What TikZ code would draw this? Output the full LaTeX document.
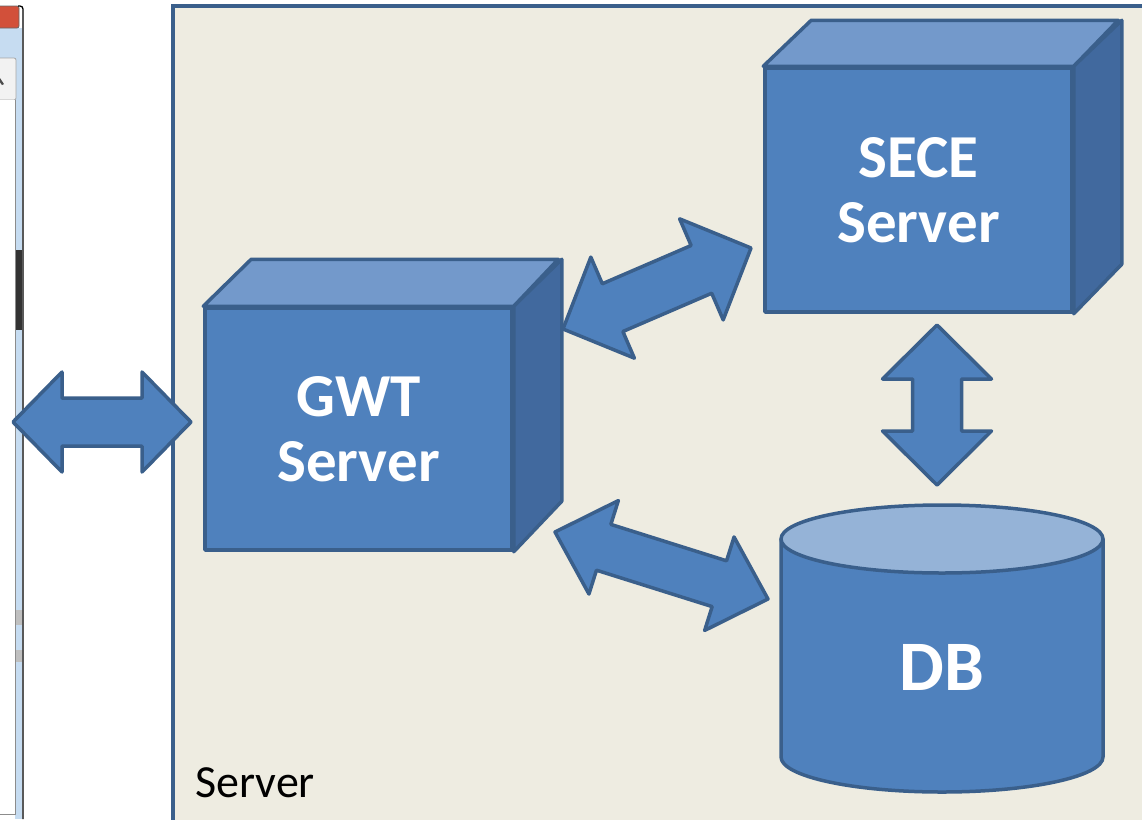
\documentclass[tikz,border=0pt]{standalone}
\usepackage{fontspec}
\setmainfont{Carlito}
\usetikzlibrary{calc}
\definecolor{bgfill}{HTML}{EEECE1}
\definecolor{boxblue}{HTML}{4F81BD}
\definecolor{edgeblue}{HTML}{3A5F8B}
\definecolor{topblue}{HTML}{7399CB}
\definecolor{sideblue}{HTML}{41699E}
\definecolor{cyltop}{HTML}{95B3D7}
\definecolor{winblue}{HTML}{C6DCF1}
\definecolor{winred}{HTML}{D2503A}
\tikzset{
  edge/.style={draw=edgeblue, line width=3.5pt, line join=round},
  front/.style={edge, fill=boxblue, text=white, align=center, inner sep=0pt,
     font=\bfseries\fontsize{61}{65}\selectfont},
  topface/.style={edge, fill=topblue},
  sideface/.style={edge, fill=sideblue},
  arrowshape/.style={edge, fill=boxblue},
  serverbox/.style={draw=edgeblue, line width=4pt, fill=bgfill},
}
% double block arrow between two named points: #1 tip, #2 tip, #3 head length, #4 head half width, #5 shaft half width
\newcommand{\dblarr}[5]{%
  \coordinate (p1) at ($(#1)!#3pt!(#2)$);
  \coordinate (p2) at ($(#2)!#3pt!(#1)$);
  \filldraw[arrowshape] (#1) -- ($(p1)!#4pt!90:(#2)$) -- ($(p1)!#5pt!90:(#2)$)
    -- ($(p2)!#5pt!-90:(#1)$) -- ($(p2)!#4pt!-90:(#1)$) -- (#2)
    -- ($(p2)!#4pt!90:(#1)$) -- ($(p2)!#5pt!90:(#1)$)
    -- ($(p1)!#5pt!-90:(#2)$) -- ($(p1)!#4pt!-90:(#2)$) -- cycle;
}
\begin{document}
\begin{tikzpicture}[x=1pt, y=-1pt]
\useasboundingbox (0,0) rectangle (1142,819);
\clip (0,0) rectangle (1142,819);
\fill[white] (0,0) rectangle (1142,819);

% --- fragment of a client window at the left edge ---
\fill[winblue] (0,28) rectangle (22,58);
\fill[winblue] (15,58) rectangle (22,819);
\fill[black!80] (15.5,250) rectangle (22,330);
\fill[black!25] (15.5,610) rectangle (22,625);
\fill[black!25] (15.5,650) rectangle (22,662);
\filldraw[fill=winred, draw=black!60, line width=0.8pt, rounded corners=2pt] (-6,6) rectangle (19,28);
\filldraw[fill=black!5, draw=black!35, line width=0.8pt, rounded corners=2pt] (-6,58) rectangle (16,100);
\fill[black!70] (0,78) -- (4,84) -- (2,85) -- (-1,81) -- cycle;
\fill[white] (-1,100) rectangle (15.5,814);
\draw[black!45, line width=0.8pt] (15.5,100) -- (15.5,814) -- (-1,814);
\draw[black, line width=1.3pt, rounded corners=3pt] (18,6) -- (23,6) -- (23,819);

% --- server area ---
\filldraw[serverbox] (173,6) rectangle (1160,840);
\node[anchor=base west, font=\fontsize{46}{50}\selectfont, inner sep=0pt] (serverlbl) at (195,797) {Server};

% --- GWT server cube ---
\node[front, minimum width=307, minimum height=242] (gwt) at (358.5,429) {GWT\\Server};
\filldraw[topface] (gwt.north west) -- ++(48,-47) -- ++(307,0) -- (gwt.north east) -- cycle;
\filldraw[sideface] (gwt.north east) -- ++(48,-47) -- ++(0,242) -- (gwt.south east) -- cycle;

% --- SECE server cube ---
\node[front, minimum width=307, minimum height=244] (sece) at (918.5,190) {SECE\\Server};
\filldraw[topface] (sece.north west) -- ++(48,-46) -- ++(307,0) -- (sece.north east) -- cycle;
\filldraw[sideface] (sece.north east) -- ++(48,-46) -- ++(0,244) -- (sece.south east) -- cycle;

% --- DB cylinder ---
\filldraw[edge, fill=boxblue] (781,539) -- (781,757) arc[start angle=180, end angle=0, x radius=161, y radius=35] -- (1103,539) -- cycle;
\filldraw[edge, fill=cyltop] (942,539) ellipse[x radius=161, y radius=34];
\node[text=white, font=\bfseries\fontsize{71}{71}\selectfont, inner sep=0pt] (db) at (942,667) {DB};

% --- connectors (double block arrows) ---
\coordinate (clientR) at (13,422);
\coordinate (gwtL) at (191,422);
\coordinate (gwtNE) at (563,329);
\coordinate (seceW) at (751,248);
\coordinate (seceS) at (937,325);
\coordinate (dbN) at (937,485);
\coordinate (gwtSE) at (555,532);
\coordinate (dbW) at (768,599);
\dblarr{clientR}{gwtL}{49}{50}{24}
\dblarr{gwtNE}{seceW}{54}{55}{26}
\dblarr{seceS}{dbN}{54}{54.5}{24.5}
\dblarr{gwtSE}{dbW}{51}{49}{24}
\end{tikzpicture}
\end{document}
